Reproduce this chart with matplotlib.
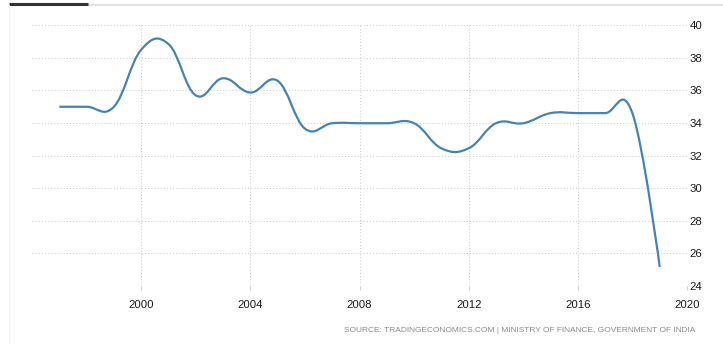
import matplotlib
matplotlib.use("Agg")
import matplotlib.pyplot as plt
from matplotlib.path import Path
from matplotlib.patches import PathPatch
from matplotlib.lines import Line2D

years = list(range(1997, 2020))
rates = [35.0, 35.0, 35.0, 38.5, 38.85, 35.7, 36.75, 35.875, 36.59, 33.66,
         33.99, 33.99, 33.99, 33.99, 32.45, 32.45, 33.99, 33.99, 34.61,
         34.61, 34.61, 34.6, 25.17]
x_ticks = [2000, 2004, 2008, 2012, 2016, 2020]
y_ticks = [24, 26, 28, 30, 32, 34, 36, 38, 40]
source_text = "SOURCE: TRADINGECONOMICS.COM | MINISTRY OF FINANCE, GOVERNMENT OF INDIA"

LINE_COLOR = "#4682b4"
GRID_COLOR = "#cfcfcf"


def spline_path(xs, ys, smoothing=1.5):
    """Spline through the points (Highcharts-style cubic Bezier control points)."""
    denom = smoothing + 1
    n = len(xs)
    left = [None] * n
    right = [None] * n
    for i in range(1, n - 1):
        x, y = xs[i], ys[i]
        lx = (smoothing * x + xs[i - 1]) / denom
        ly = (smoothing * y + ys[i - 1]) / denom
        rx = (smoothing * x + xs[i + 1]) / denom
        ry = (smoothing * y + ys[i + 1]) / denom
        corr = ((ry - ly) * (rx - x)) / (rx - lx) + y - ry
        left[i] = (lx, ly + corr)
        right[i] = (rx, ry + corr)
    verts = [(xs[0], ys[0])]
    codes = [Path.MOVETO]
    for i in range(1, n):
        c1 = right[i - 1] if right[i - 1] is not None else (xs[i - 1], ys[i - 1])
        c2 = left[i] if left[i] is not None else (xs[i], ys[i])
        verts += [c1, c2, (xs[i], ys[i])]
        codes += [Path.CURVE4] * 3
    return Path(verts, codes)


W, H = 723, 344
fig = plt.figure(figsize=(W / 100, H / 100), dpi=100)
fig.patch.set_facecolor("white")

ax_left, ax_right, ax_top, ax_bottom = 32, 687, 25.3, 286
ax = fig.add_axes([ax_left / W, 1 - ax_bottom / H,
                   (ax_right - ax_left) / W, (ax_bottom - ax_top) / H])
ax.set_facecolor("white")
ax.set_xlim(1996, 2020)
ax.set_ylim(24, 40)

for s in ax.spines.values():
    s.set_visible(False)

ax.set_xticks(x_ticks)
ax.set_yticks(y_ticks)
ax.yaxis.tick_right()
ax.grid(True, color=GRID_COLOR, linestyle=(0, (1, 2)), linewidth=0.75)
ax.set_axisbelow(True)

font = ["Liberation Sans", "DejaVu Sans"]
ax.tick_params(axis="y", length=0, pad=2, labelsize=8.2, labelcolor="#1a1a1a")
ax.tick_params(axis="x", length=3, width=0.75, color=GRID_COLOR, pad=7,
               labelsize=8.2, labelcolor="#1a1a1a")
for lab in ax.get_xticklabels() + ax.get_yticklabels():
    lab.set_family(font)

path = spline_path(years, rates)
ax.add_patch(PathPatch(path, facecolor="none", edgecolor=LINE_COLOR,
                       linewidth=1.6, capstyle="butt", joinstyle="round"))

# top tab line and faint frame
fig.add_artist(Line2D([88 / W, 1], [1 - 4.5 / H, 1 - 4.5 / H],
                      color="#dddddd", linewidth=1.2))
fig.add_artist(Line2D([9 / W, 88 / W], [1 - 4 / H, 1 - 4 / H],
                      color="#333333", linewidth=2.2, solid_capstyle="butt"))
fig.add_artist(Line2D([8.5 / W, 8.5 / W], [0, 1 - 5 / H],
                      color="#f0f0f0", linewidth=0.8))

fig.text(695 / W, 1 - 331 / H, source_text, ha="right", va="center",
         fontsize=6.05, color="#8a8a8a", family=font)

fig.savefig("out.png", dpi=100, facecolor="white")
